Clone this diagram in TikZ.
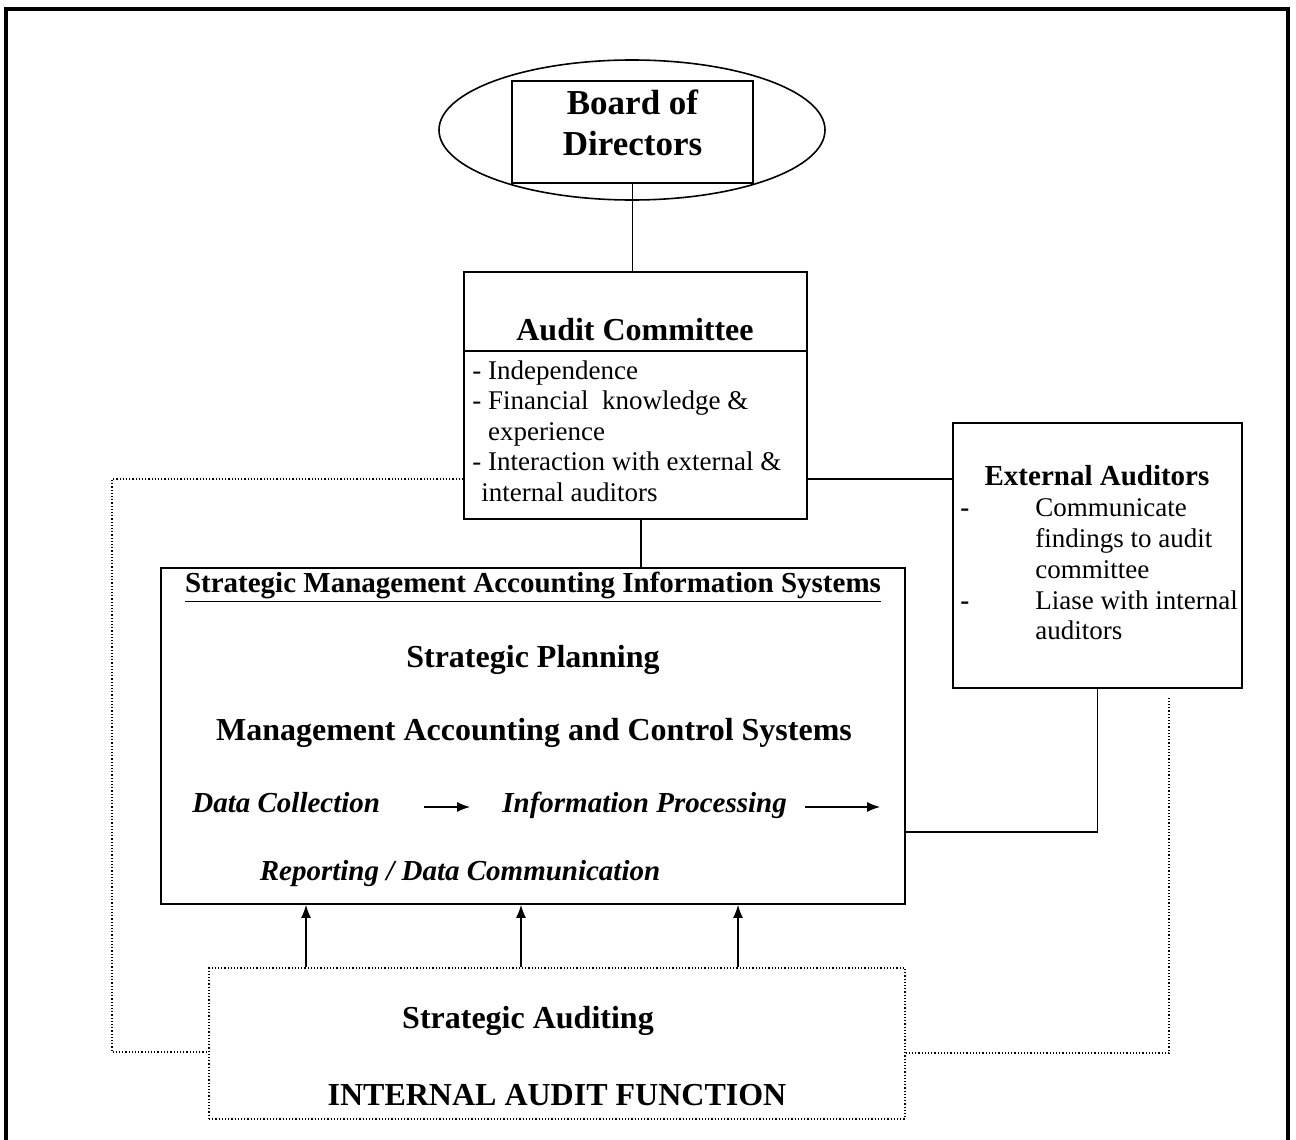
\documentclass[tikz,border=0pt]{standalone}
\usepackage{fontspec}
\setmainfont{Liberation Serif}
\usepackage{tikz}
\usetikzlibrary{shapes.geometric, arrows, arrows.meta}
\tikzstyle{box} = [rectangle, draw=black, fill=white, line width=0.9pt]
\tikzstyle{dotbox} = [rectangle, draw=black, densely dotted, line width=0.6pt]
\tikzstyle{txt} = [inner sep=0pt, align=center]
\tikzstyle{flow} = [inner sep=0pt, text height=0.75em, text depth=0.25em, font=\fontsize{14.5pt}{17pt}\selectfont\bfseries\itshape]
\tikzstyle{link} = [line width=0.7pt]
\tikzstyle{dotline} = [densely dotted, line width=0.6pt]
\tikzstyle{arrow} = [line width=0.6pt,-{Latex[length=6.5pt,width=5pt]}]

\begin{document}
\begin{tikzpicture}[x=0.5pt, y=-0.5pt]
        \useasboundingbox (0,0) rectangle (1296,1140);
        \draw [line width=1.8pt] (6,1160) -- (6,9) -- (1288,9) -- (1288,1160);
        \node (boardell) [ellipse, draw=black, line width=0.8pt, minimum width=193pt, minimum height=70pt] at (632,130) {};
        \node (board) [box, minimum width=120.5pt, minimum height=51pt] at (632.5,132) {};
        \node (boardtxt) [txt, font=\fontsize{17.5pt}{20.5pt}\selectfont\bfseries] at (632.5,123) {Board of\\Directors};
        \node (acbox) [box, minimum width=171.5pt, minimum height=39.5pt] at (635.5,311.5) {};
        \node (actitle) [txt, font=\fontsize{16pt}{19pt}\selectfont\bfseries] at (635,330) {Audit Committee};
        \node (acitems) [box, minimum width=171.5pt, minimum height=84pt] at (635.5,435) {};
        \node (aclist) [txt, anchor=west, align=left, font=\fontsize{13.5pt}{15.25pt}\selectfont] at (472,431) {- Independence\\- Financial\ \ knowledge \&\\\phantom{- }experience\\- Interaction with external \&\\\phantom{-}internal auditors};
        \draw [link] (board.south) -- (board.south |- acbox.north);
        \node (ext) [box, minimum width=144.5pt, minimum height=132.5pt] at (1097.5,555.5) {};
        \node (exttitle) [txt, font=\fontsize{14.5pt}{17pt}\selectfont\bfseries] at (1097,476) {External Auditors};
        \node (extlist) [txt, anchor=west, align=left, font=\fontsize{13.5pt}{15.4pt}\selectfont] at (960,569.5) {\makebox[37.5pt][l]{\textbf{-}}Communicate\\\hspace*{37.5pt}findings to audit\\\hspace*{37.5pt}committee\\\makebox[37.5pt][l]{\textbf{-}}Liase with internal\\\hspace*{37.5pt}auditors};
        \draw [link] (acitems.east |- 0,479) -- (ext.west |- 0,479);
        \node (smais) [box, minimum width=372pt, minimum height=168pt] at (533,736) {};
        \node (smaishead) [txt, font=\fontsize{14.5pt}{17pt}\selectfont\bfseries] at (533,587) {\underline{Strategic Management Accounting Information Systems}};
        \node (plan) [txt, font=\fontsize{16pt}{19pt}\selectfont\bfseries] at (533,660) {Strategic Planning};
        \node (macs) [txt, font=\fontsize{16pt}{19pt}\selectfont\bfseries] at (534,733) {Management Accounting and Control Systems};
        \node (collect) [flow, anchor=west] at (192,807) {Data Collection};
        \node (process) [flow, anchor=west] at (502,807) {Information Processing};
        \coordinate (procout) at (880,807);
        \node (report) [flow] at (460,875) {Reporting / Data Communication};
        \draw [arrow, shorten <=22pt, shorten >=16pt] (collect.east) -- (process.west);
        \draw [arrow, shorten <=9pt] (process.east) -- (procout);
        \draw [link] (acitems.south -| 641,0) -- (smais.north -| 641,0);
        \draw [link] (ext.south) |- (smais.east |- 0,832);
        \node (iaf) [dotbox, minimum width=348pt, minimum height=75.5pt] at (557,1043.5) {};
        \node (strataud) [txt, font=\fontsize{16pt}{19pt}\selectfont\bfseries] at (528,1021) {Strategic Auditing};
        \node (iaftitle) [txt, font=\fontsize{16pt}{19pt}\selectfont\bfseries] at (557,1095) {INTERNAL AUDIT FUNCTION};
        \foreach \x in {306,521,738}
            \draw [arrow] (iaf.north -| \x,0) -- (smais.south -| \x,0);
        \draw [dotline] (acitems.west |- 0,479) -| (112,1052) -- (iaf.west |- 0,1052);
        \draw [dotline, shorten >=3.5pt] (iaf.east |- 0,1053) -| (ext.south -| 1169,0);
\end{tikzpicture}
\end{document}
